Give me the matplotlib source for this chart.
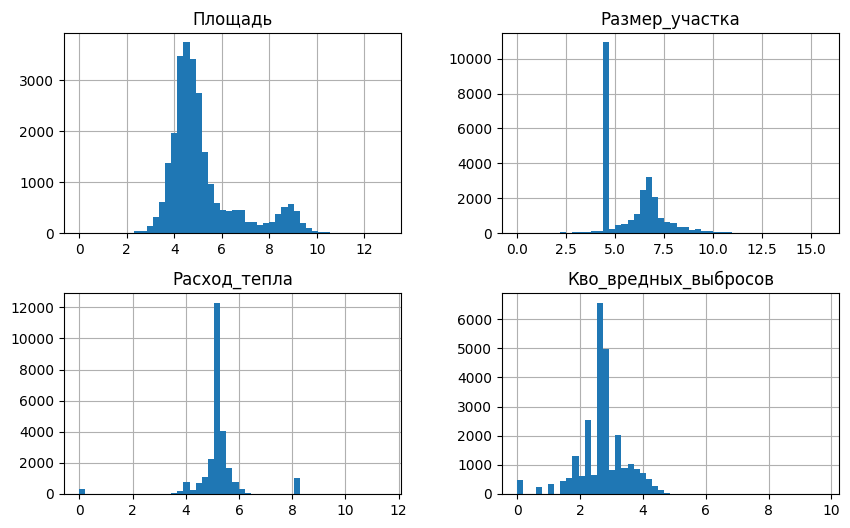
import numpy as np
import matplotlib
matplotlib.use("Agg")
import matplotlib.pyplot as plt

# column names and value ranges (50 bins each, like df.hist(bins=50))
columns = ["Площадь", "Размер_участка", "Расход_тепла", "Кво_вредных_выбросов"]
ranges = [(0.0, 12.9), (0.0, 15.65), (0.0, 11.51), (0.0, 9.755)]

area_counts = [
    1, 0, 0, 0, 0, 0, 0, 0, 0, 40,
    40, 140, 315, 610, 1375, 1965, 3480, 3750, 3415, 2750,
    1590, 965, 590, 455, 435, 455, 455, 215, 215, 160,
    205, 215, 375, 510, 570, 435, 195, 98, 40, 20,
    20, 8, 5, 3, 2, 1, 1, 0, 0, 1,
]
plot_counts = [
    1, 0, 0, 0, 0, 0, 0, 55, 10, 55,
    55, 55, 115, 115, 10935, 230, 460, 515, 745, 1090,
    2460, 3205, 2060, 860, 630, 575, 345, 345, 172, 230,
    115, 115, 57, 57, 57, 20, 10, 5, 3, 2,
    1, 1, 1, 0, 0, 0, 0, 0, 0, 1,
]
heat_counts = [
    320, 0, 0, 0, 0, 0, 0, 0, 0, 0,
    0, 0, 0, 0, 5, 65, 195, 770, 255, 705,
    1095, 2250, 12280, 4050, 1670, 770, 320, 65, 5, 0,
    0, 0, 0, 0, 0, 1030, 0, 0, 0, 0,
    0, 0, 0, 0, 0, 0, 0, 0, 0, 1,
]
emission_counts = [
    480, 0, 0, 240, 0, 345, 0, 445, 550, 1305,
    620, 2540, 650, 6555, 4975, 825, 2025, 890, 1030, 860,
    720, 515, 275, 135, 35, 5, 2, 1, 0, 0,
    0, 0, 0, 0, 0, 0, 0, 0, 0, 0,
    0, 0, 0, 0, 0, 0, 0, 0, 0, 1,
]
all_counts = [area_counts, plot_counts, heat_counts, emission_counts]

fig, axes = plt.subplots(2, 2, figsize=(8.5, 5.28), dpi=100)
fig.subplots_adjust(left=0.0753, right=0.987, bottom=0.0644, top=0.938,
                    wspace=0.3, hspace=0.3)

for ax, name, (lo, hi), counts in zip(axes.flat, columns, ranges, all_counts):
    edges = np.linspace(lo, hi, len(counts) + 1)
    centers = (edges[:-1] + edges[1:]) / 2
    ax.hist(centers, bins=edges, weights=counts, color="#1f77b4")
    ax.set_title(name)
    ax.grid(True)
    ax.set_axisbelow(True)

fig.savefig("out.png", dpi=100)
